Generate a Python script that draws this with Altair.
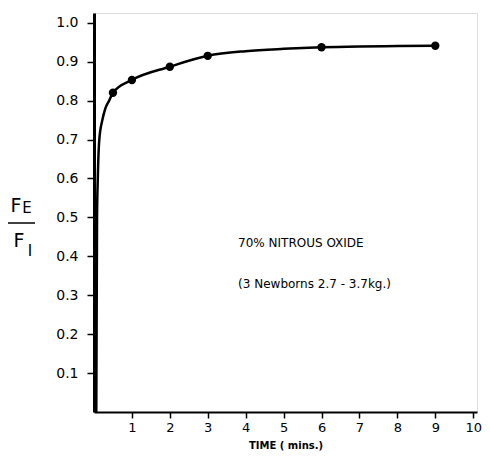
import altair as alt
import pandas as pd

# measured points
pt_time = [0.5, 1, 2, 3, 6, 9]
pt_ratio = [0.82, 0.853, 0.887, 0.915, 0.937, 0.941]

# fitted curve as drawn
curve_time = [0.06, 0.08, 0.1, 0.14, 0.22, 0.3, 0.4, 0.5, 1, 2, 3, 4, 5, 6, 7, 8, 9]
curve_ratio = [0.0, 0.5, 0.6, 0.7, 0.75, 0.78, 0.80, 0.82, 0.853, 0.887, 0.915, 0.927, 0.933, 0.937, 0.939, 0.940, 0.941]

x_ticks = [1, 2, 3, 4, 5, 6, 7, 8, 9, 10]
y_ticks = [0.1, 0.2, 0.3, 0.4, 0.5, 0.6, 0.7, 0.8, 0.9, 1.0]

note_lines = ["70% NITROUS OXIDE", "(3 Newborns 2.7 - 3.7kg.)"]
note_x = [3.8, 3.8]
note_y = [0.434, 0.33]

FONT = "DejaVu Sans"

pts = pd.DataFrame({"t": pt_time, "r": pt_ratio})
crv = pd.DataFrame({"t": curve_time, "r": curve_ratio})
notes = pd.DataFrame({"t": note_x, "r": note_y, "txt": note_lines})

xs = alt.Scale(domain=[0, 10.1], nice=False, zero=True)
ys = alt.Scale(domain=[0, 1.025], nice=False)

xax = alt.Axis(values=x_ticks, title="TIME ( mins.)", grid=False, tickSize=6,
               labelPadding=3, labelFontSize=13, labelFont=FONT, labelColor="black",
               titleFont=FONT, titleFontSize=10, titleFontWeight="bold", titleColor="black",
               titlePadding=6, domainColor="black", domainWidth=2, tickColor="black",
               tickWidth=1.5, labelFlush=False)
yax = alt.Axis(values=y_ticks, format=".1f", title=None, grid=False, tickSize=7,
               labelPadding=9, labelFontSize=14, labelFont=FONT, labelColor="black",
               domainColor="black", domainWidth=3, tickColor="black", tickWidth=1.5,
               labelFlush=False)

line = alt.Chart(crv).mark_line(color="black", strokeWidth=2.5, interpolate="monotone").encode(
    x=alt.X("t:Q", scale=xs, axis=xax),
    y=alt.Y("r:Q", scale=ys, axis=yax),
)
dots = alt.Chart(pts).mark_circle(color="black", opacity=1, size=70).encode(
    x=alt.X("t:Q", scale=xs),
    y=alt.Y("r:Q", scale=ys),
)
text = alt.Chart(notes).mark_text(align="left", baseline="middle", font=FONT,
                                  fontSize=12, color="black").encode(
    x=alt.X("t:Q", scale=xs),
    y=alt.Y("r:Q", scale=ys),
    text="txt:N",
)

one = pd.DataFrame({"a": [0]})
f_top = alt.Chart(one).mark_text(font=FONT, fontSize=19, color="black").encode(
    x=alt.value(-78), y=alt.value(193), text=alt.value("F"))
e_top = alt.Chart(one).mark_text(font=FONT, fontSize=15, color="black").encode(
    x=alt.value(-67), y=alt.value(195), text=alt.value("E"))
bar = alt.Chart(one).mark_rule(color="black", strokeWidth=1.5).encode(
    x=alt.value(-86), x2=alt.value(-59), y=alt.value(210))
f_bot = alt.Chart(one).mark_text(font=FONT, fontSize=19, color="black").encode(
    x=alt.value(-75), y=alt.value(228), text=alt.value("F"))
i_bot = alt.Chart(one).mark_text(font=FONT, fontSize=15, color="black").encode(
    x=alt.value(-64), y=alt.value(238), text=alt.value("I"))

chart = alt.layer(line, dots, text, f_top, e_top, bar, f_bot, i_bot).properties(
    width=383, height=399,
    autosize=alt.AutoSizeParams(type="none"),
    padding={"left": 86, "top": 5, "right": 5, "bottom": 40},
).configure_view(stroke=None).configure(background="white")

chart.save("out.html", embed_options={"renderer": "svg", "actions": False})
